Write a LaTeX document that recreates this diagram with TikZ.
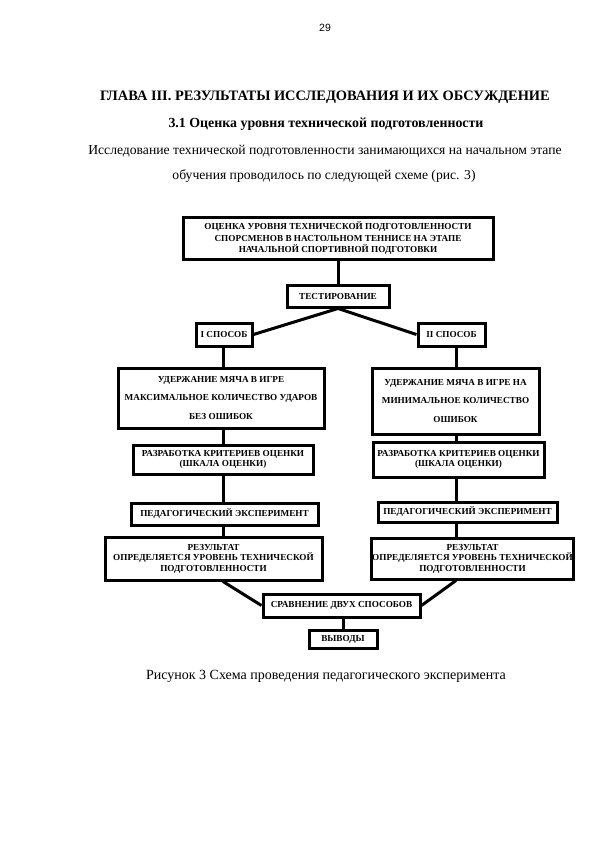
\documentclass[tikz,border=0pt]{standalone}
\usepackage{fontspec}
\setmainfont{Liberation Serif}
\newfontfamily\pagefont{Liberation Sans}
\usepackage{tikz}
\usetikzlibrary{positioning}

\begin{document}
\begin{tikzpicture}[x=1pt, y=-1pt,
    box/.style={draw, line width=3pt, align=center, inner sep=1pt,
                font=\bfseries\fontsize{9.2}{10.5}\selectfont},
    link/.style={line width=3pt},
    page/.style={font=\fontsize{14}{16}\selectfont}]
  \useasboundingbox (0,0) rectangle (595,842);

  % --- Page text ---
  \node[font=\pagefont\fontsize{10.5}{12}\selectfont] (pagenum) at (325,28) {29};
  \node[page, font=\bfseries\fontsize{14.4}{16}\selectfont] (chapter) at (325,97)
    {ГЛАВА III. РЕЗУЛЬТАТЫ ИССЛЕДОВАНИЯ И ИХ ОБСУЖДЕНИЕ};
  \node[page, font=\bfseries\fontsize{13.9}{16}\selectfont] (section) at (326,124)
    {3.1 Оценка уровня технической подготовленности};
  \node[page, font=\fontsize{13.65}{16}\selectfont] (intro1) at (325,151)
    {Исследование технической подготовленности занимающихся на начальном этапе};
  \node[page, font=\fontsize{13.65}{16}\selectfont] (intro2) at (324,176)
    {обучения проводилось по следующей схеме (рис. 3)};
  \node[page] (caption) at (326,676)
    {Рисунок 3 Схема проведения педагогического эксперимента};

  % --- Scheme boxes ---
  \node[box, minimum width=310pt, minimum height=41pt, font=\bfseries\fontsize{9.2}{11.5}\selectfont]
    (goal) at (338,238.5)
    {ОЦЕНКА УРОВНЯ ТЕХНИЧЕСКОЙ ПОДГОТОВЛЕННОСТИ\\
     СПОРСМЕНОВ В НАСТОЛЬНОМ ТЕННИСЕ НА ЭТАПЕ\\
     НАЧАЛЬНОЙ СПОРТИВНОЙ ПОДГОТОВКИ};
  \node[box, minimum width=102pt, minimum height=22pt] (test) at (338,296) {ТЕСТИРОВАНИЕ};
  \node[box, minimum width=56pt, minimum height=23pt] (way1) at (224,334.5) {I СПОСОБ};
  \node[box, minimum width=67pt, minimum height=23pt] (way2) at (451.5,334.5) {II СПОСОБ};

  % left branch
  \node[box, minimum width=206pt, minimum height=60pt, font=\bfseries\fontsize{9.2}{18.5}\selectfont]
    (hold1) at (221,398)
    {УДЕРЖАНИЕ МЯЧА В ИГРЕ\\ МАКСИМАЛЬНОЕ КОЛИЧЕСТВО УДАРОВ\\ БЕЗ ОШИБОК};
  \node[box, minimum width=180pt, minimum height=29pt, font=\bfseries\fontsize{9.2}{10}\selectfont]
    (crit1) at (223,459.5) {РАЗРАБОТКА КРИТЕРИЕВ ОЦЕНКИ\\ (ШКАЛА ОЦЕНКИ)};
  \node[box, minimum width=187pt, minimum height=22pt] (exp1) at (224.5,514) {ПЕДАГОГИЧЕСКИЙ ЭКСПЕРИМЕНТ};
  \node[box, minimum width=217pt, minimum height=43pt] (res1) at (213.5,558.5)
    {РЕЗУЛЬТАТ\\ ОПРЕДЕЛЯЕТСЯ УРОВЕНЬ ТЕХНИЧЕСКОЙ\\ ПОДГОТОВЛЕННОСТИ};

  % right branch
  \node[box, minimum width=167pt, minimum height=66pt, font=\bfseries\fontsize{9.2}{18.5}\selectfont]
    (hold2) at (455.5,401)
    {УДЕРЖАНИЕ МЯЧА В ИГРЕ НА\\ МИНИМАЛЬНОЕ КОЛИЧЕСТВО\\ ОШИБОК};
  \node[box, minimum width=171pt, minimum height=35pt, font=\bfseries\fontsize{9.2}{10}\selectfont]
    (crit2) at (458.5,459.5) {РАЗРАБОТКА КРИТЕРИЕВ ОЦЕНКИ\\ (ШКАЛА ОЦЕНКИ)};
  \node[box, minimum width=179pt, minimum height=20pt] (exp2) at (467.5,512) {ПЕДАГОГИЧЕСКИЙ ЭКСПЕРИМЕНТ};
  \node[box, minimum width=201pt, minimum height=41pt] (res2) at (472.5,558.5)
    {РЕЗУЛЬТАТ\\ ОПРЕДЕЛЯЕТСЯ УРОВЕНЬ ТЕХНИЧЕСКОЙ\\ ПОДГОТОВЛЕННОСТИ};

  \node[box, minimum width=157pt, minimum height=23pt] (compare) at (341.5,605.5) {СРАВНЕНИЕ ДВУХ СПОСОБОВ};
  \node[box, minimum width=68pt, minimum height=18pt] (concl) at (343,639) {ВЫВОДЫ};

  % --- Columns of the two branches ---
  \coordinate (colL) at (223,0);
  \coordinate (colR) at (456,0);

  % --- Connectors ---
  \draw[link] (goal.south) -- (test.north);
  \draw[link] (test.south) -- (way1.east);
  \draw[link] (test.south) -- (way2.west);
  \draw[link] (way1.south -| colL) -- (hold1.north -| colL);
  \draw[link] (hold1.south -| colL) -- (crit1.north -| colL);
  \draw[link] (crit1.south -| colL) -- (exp1.north -| colL);
  \draw[link] (exp1.south -| colL) -- (res1.north -| colL);
  \draw[link] (way2.south -| colR) -- (hold2.north -| colR);
  \draw[link] (hold2.south -| colR) -- (crit2.north -| colR);
  \draw[link] (crit2.south -| colR) -- (exp2.north -| colR);
  \draw[link] (exp2.south -| colR) -- (res2.north -| colR);
  \draw[link] (res1.south -| colL) -- (compare.west);
  \draw[link] (res2.south -| colR) -- (compare.east);
  \draw[link] (compare.south -| concl) -- (concl.north);
\end{tikzpicture}
\end{document}
